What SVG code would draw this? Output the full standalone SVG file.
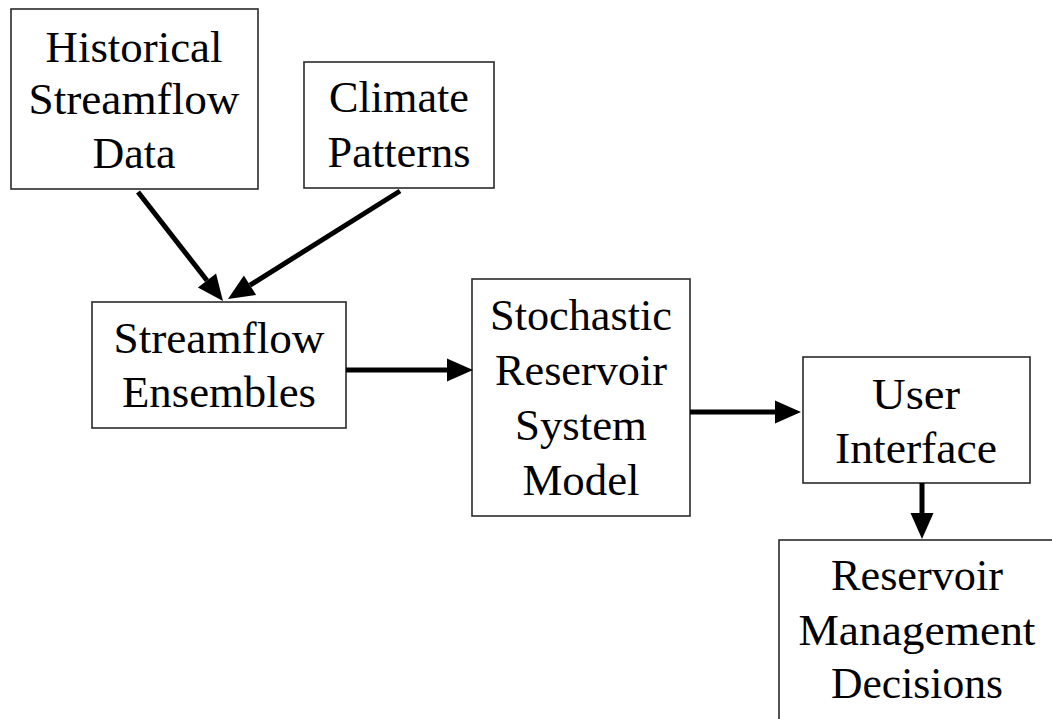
<svg xmlns="http://www.w3.org/2000/svg" width="1052" height="719" viewBox="0 0 1052 719">
  <style>
    .box { fill: #ffffff; stroke: #2a2a2a; stroke-width: 1.6; }
    .lbl { font-family: "Liberation Serif", "Times New Roman", "DejaVu Serif", "Noto Serif", serif; font-size: 45px; fill: #000; text-anchor: middle; }
    .conn { stroke: #000; stroke-width: 5; fill: none; marker-end: url(#arrow); }
  </style>
  <defs>
    <marker id="arrow" markerUnits="userSpaceOnUse" markerWidth="27" markerHeight="24" refX="0" refY="11.5" orient="auto" overflow="visible">
      <path d="M0,0 L26,11.5 L0,23 z" fill="#000"/>
    </marker>
  </defs>
  <rect x="0" y="0" width="1052" height="719" fill="#ffffff"/>

  <g id="historical">
    <rect class="box" x="11" y="9" width="247" height="180"/>
    <text class="lbl" x="134" y="62" textLength="177" lengthAdjust="spacingAndGlyphs">Historical</text>
    <text class="lbl" x="134" y="114" textLength="211" lengthAdjust="spacingAndGlyphs">Streamflow</text>
    <text class="lbl" x="134" y="168" textLength="83" lengthAdjust="spacingAndGlyphs">Data</text>
  </g>

  <g id="climate">
    <rect class="box" x="304" y="62" width="190" height="126"/>
    <text class="lbl" x="399" y="112" textLength="140" lengthAdjust="spacingAndGlyphs">Climate</text>
    <text class="lbl" x="399" y="167" textLength="143" lengthAdjust="spacingAndGlyphs">Patterns</text>
  </g>

  <g id="ensembles">
    <rect class="box" x="92" y="302" width="254" height="126"/>
    <text class="lbl" x="219" y="353" textLength="211" lengthAdjust="spacingAndGlyphs">Streamflow</text>
    <text class="lbl" x="219" y="407" textLength="194" lengthAdjust="spacingAndGlyphs">Ensembles</text>
  </g>

  <g id="model">
    <rect class="box" x="472" y="279" width="218" height="237"/>
    <text class="lbl" x="581" y="330" textLength="182" lengthAdjust="spacingAndGlyphs">Stochastic</text>
    <text class="lbl" x="581" y="385" textLength="172" lengthAdjust="spacingAndGlyphs">Reservoir</text>
    <text class="lbl" x="581" y="440" textLength="132" lengthAdjust="spacingAndGlyphs">System</text>
    <text class="lbl" x="581" y="495" textLength="117" lengthAdjust="spacingAndGlyphs">Model</text>
  </g>

  <g id="interface">
    <rect class="box" x="803" y="357" width="227" height="126"/>
    <text class="lbl" x="916" y="409" textLength="88" lengthAdjust="spacingAndGlyphs">User</text>
    <text class="lbl" x="916" y="463" textLength="162" lengthAdjust="spacingAndGlyphs">Interface</text>
  </g>

  <g id="decisions">
    <rect class="box" x="779" y="540" width="300" height="200"/>
    <text class="lbl" x="917" y="590" textLength="172" lengthAdjust="spacingAndGlyphs">Reservoir</text>
    <text class="lbl" x="917" y="645" textLength="237" lengthAdjust="spacingAndGlyphs">Management</text>
    <text class="lbl" x="917" y="698" textLength="172" lengthAdjust="spacingAndGlyphs">Decisions</text>
  </g>

  <g id="connectors">
    <line class="conn" x1="138" y1="192" x2="207" y2="280.5"/>
    <line class="conn" x1="400" y1="191" x2="250" y2="285.2"/>
    <line class="conn" x1="346" y1="370" x2="447" y2="370"/>
    <line class="conn" x1="690" y1="412" x2="775" y2="412"/>
    <line class="conn" x1="922" y1="483" x2="922" y2="513"/>
  </g>
</svg>
